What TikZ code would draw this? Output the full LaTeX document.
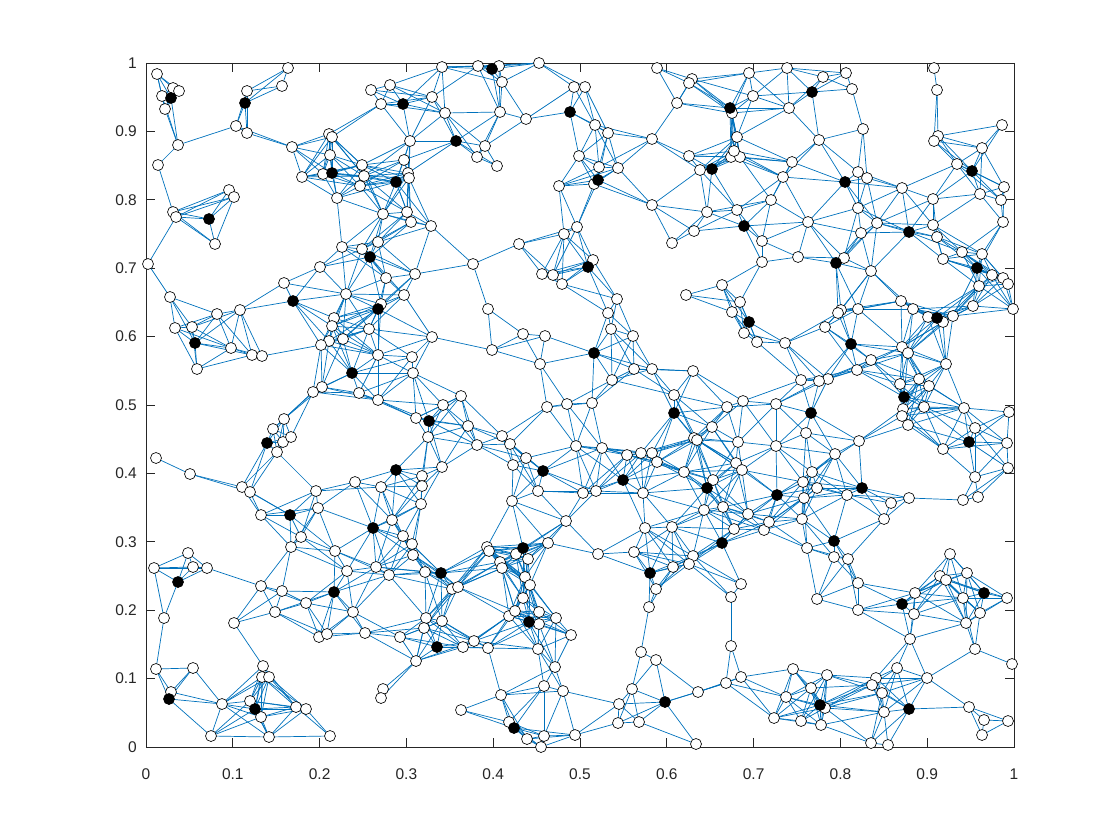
\documentclass[tikz,border=0pt]{standalone}
\usepackage{fontspec}
\setmainfont{Liberation Sans}
\definecolor{edgeblue}{rgb}{0,0.447,0.741}
\definecolor{axgray}{rgb}{0.15,0.15,0.15}
\newcount\gi \newcount\gj \newcount\gn \newcount\gd
\def\Nodes{157/74/0,173/88/0,179/91/0,162/96/0,171/98/1,165/109/0,178/145/0,158/165/0,173/212/0,176/217/0,209/219/1,229/190/0,234/197/0,215/244/0,148/264/0,288/68/0,282/86/0,247/91/0,245/103/1,236/126/0,247/133/0,292/147/0,329/134/0,332/137/0,330/155/0,332/173/1,323/174/0,302/177/0,337/198/0,342/247/0,320/267/0,284/283/0,
442/67/0,478/66/0,492/69/1,499/66/0,539/63/0,502/82/0,371/90/0,390/85/0,381/104/0,403/104/1,432/97/0,445/113/0,500/112/0,526/119/0,574/87/0,570/112/1,410/141/0,456/141/1,485/146/0,477/157/0,497/166/0,404/160/0,408/173/0,409/178/0,396/182/1,362/165/0,364/176/0,360/186/0,559/186/0,383/214/0,407/212/0,411/222/0,431/226/0,378/242/0,362/249/0,370/257/1,386/278/0,415/274/0,473/264/0,519/244/0,564/234/0,542/274/0,553/275/0,562/284/0,
657/68/0,585/87/0,595/125/0,608/133/0,579/156/0,599/167/0,618/168/0,598/180/1,594/184/0,652/139/0,677/103/0,692/79/0,689/83/0,749/73/0,753/96/0,730/108/1,732/113/0,787/68/0,789/108/0,737/137/0,689/156/0,700/170/0,712/169/1,731/157/0,740/157/0,734/151/0,783/177/0,771/200/0,652/205/0,707/212/0,737/210/0,744/226/1,694/231/0,672/243/0,762/241/0,762/262/0,577/227/0,593/260/0,588/267/1,722/285/0,
823/77/0,846/73/0,812/92/1,852/89/0,863/129/0,819/140/0,792/162/0,845/182/1,858/172/0,867/178/0,902/188/0,933/199/0,934/68/0,937/90/0,938/136/0,934/141/0,1002/125/0,982/148/0,957/164/0,972/171/1,1004/187/0,980/194/0,1001/200/0,1003/222/0,808/222/0,858/208/0,877/223/0,861/233/0,909/232/1,933/225/0,937/237/0,798/257/0,836/263/1,844/258/0,871/271/0,943/259/0,962/252/0,982/254/0,977/268/1,992/275/0,1003/278/0,1008/284/0,979/286/0,
170/297/0,293/301/1,346/294/0,217/314/0,240/310/0,175/328/0,192/327/0,195/343/1,231/348/0,252/355/0,262/356/0,197/369/0,334/318/0,332/326/0,343/339/0,329/341/0,321/345/0,352/373/1,359/393/0,322/387/0,313/392/0,284/419/0,273/429/0,267/443/1,283/442/0,291/437/0,277/452/0,156/458/0,190/474/0,242/487/0,250/492/0,316/491/0,355/482/0,318/508/0,261/515/0,290/515/1,
404/295/0,378/309/1,381/304/0,369/329/0,432/337/0,378/355/0,412/357/0,413/373/0,378/400/0,488/309/0,492/350/0,523/334/0,545/336/0,540/364/0,461/396/0,443/405/0,416/418/0,429/421/1,428/437/0,468/426/0,477/445/0,502/436/0,510/444/0,526/458/0,513/465/0,543/471/1,547/407/0,567/404/0,442/467/0,396/470/1,381/487/0,422/476/0,422/486/0,421/504/0,538/491/0,512/501/0,
686/295/0,740/302/0,732/312/0,749/322/1,744/333/0,757/342/0,785/343/0,617/299/0,608/313/0,611/329/0,633/336/0,594/353/1,634/369/0,652/369/0,693/371/0,612/380/0,674/395/0,674/413/1,592/403/0,727/407/0,743/401/0,776/404/0,712/427/0,694/438/0,697/440/0,738/442/0,776/446/0,576/446/0,602/448/0,627/455/0,641/453/0,652/453/0,657/462/0,684/472/0,736/463/0,742/470/0,623/480/1,583/493/0,596/491/0,643/493/0,713/480/0,707/488/1,777/495/1,704/510/0,723/507/0,748/514/0,
841/310/0,838/313/0,858/309/0,901/301/0,913/309/0,928/317/0,937/318/1,943/322/0,953/316/0,973/306/0,1013/309/0,825/327/0,851/344/1,902/347/0,908/353/0,871/360/0,946/364/0,857/370/0,828/379/0,819/381/0,801/380/0,900/384/0,919/379/0,929/386/0,904/397/1,903/409/0,902/416/0,908/425/0,924/407/0,964/408/0,1009/412/0,811/413/1,806/433/0,859/441/0,975/428/0,969/442/1,1007/443/0,943/449/0,835/454/0,1008/468/0,975/477/0,812/472/0,803/482/0,817/488/0,862/488/1,847/495/0,804/498/0,891/503/0,909/498/0,963/500/0,978/497/0,
301/537/0,291/547/0,335/551/0,347/571/0,334/592/1,353/612/0,188/553/0,154/568/0,193/567/0,207/568/0,178/582/1,261/586/0,282/591/0,306/603/0,275/612/0,234/623/0,164/618/0,319/637/0,327/634/0,156/669/0,193/668/0,263/666/0,262/677/0,269/677/0,171/692/0,169/699/1,222/704/0,250/701/0,255/709/1,261/717/0,296/707/0,306/709/0,211/736/0,269/737/0,330/736/0,
373/528/1,392/520/0,403/536/0,412/544/0,413/555/0,376/567/0,389/575/0,425/572/0,441/573/1,452/589/0,458/587/0,487/547/0,489/551/0,523/548/1,516/554/0,528/559/0,548/543/0,566/521/0,500/562/0,502/568/0,525/577/0,530/585/0,523/598/0,509/616/0,515/611/0,529/622/1,539/612/0,539/624/0,556/618/0,571/635/0,365/633/0,400/637/0,426/618/0,424/628/0,442/621/0,437/647/1,463/647/0,474/641/0,488/648/0,538/649/0,416/661/0,555/667/0,544/686/0,563/691/0,501/695/0,383/689/0,381/698/0,461/710/0,509/722/0,514/728/1,527/739/0,544/736/0,541/747/0,
645/528/0,672/527/0,722/543/1,734/529/0,764/530/0,769/522/0,598/554/0,634/552/0,693/556/0,689/564/0,673/567/0,650/573/1,656/589/0,649/607/0,741/584/0,731/597/0,731/646/0,641/652/0,656/660/0,632/689/0,665/702/1,698/692/0,726/683/0,741/677/0,619/704/0,618/723/0,639/722/0,575/735/0,696/744/0,786/697/0,774/718/0,
802/519/0,884/519/0,834/541/1,807/548/0,834/557/0,848/559/0,858/583/0,817/599/0,858/610/0,950/554/0,940/576/0,946/580/0,967/573/0,984/593/1,1007/598/0,963/598/0,915/593/0,902/604/1,914/614/0,966/623/0,980/613/0,910/639/0,975/649/0,1012/664/0,793/669/0,827/675/0,811/688/0,897/668/0,927/678/0,876/678/0,872/685/0,882/693/0,820/705/1,825/708/0,801/721/0,821/725/0,909/709/1,884/712/0,969/707/0,984/720/0,1008/721/0,982/735/0,871/743/0,888/745/0}
\def\edgeinner{%
  \ifnum\gj>\gn\else
    \gd=\numexpr\csname nx\the\gi\endcsname-\csname nx\the\gj\endcsname\relax
    \ifnum\gd<0 \gd=-\gd\fi
    \ifnum\gd<70\relax
      \gd=\numexpr100*\gd*\gd+161*(\csname ny\the\gi\endcsname-\csname ny\the\gj\endcsname)*(\csname ny\the\gi\endcsname-\csname ny\the\gj\endcsname)\relax
      \ifnum\gd<435200\relax
        \edef\tmpedge{\noexpand\draw[edge] (c\the\gi) -- (c\the\gj);}\tmpedge
      \fi
    \fi
    \advance\gj 1
    \expandafter\edgeinner
  \fi}
\begin{document}
\begin{tikzpicture}[x=1pt,y=-1pt,
  edge/.style={draw=edgeblue,line width=0.7pt},
  nstyle0/.style={circle,draw=black,fill=white,line width=0.65pt,inner sep=0pt,minimum size=11pt},
  nstyle1/.style={circle,draw=black,fill=black,line width=0.65pt,inner sep=0pt,minimum size=11pt},
  axis/.style={draw=axgray,line width=0.9pt},
  tick/.style={font=\fontsize{15.5}{18}\selectfont,text=axgray,inner sep=0pt}]
\useasboundingbox[fill=white] (0,0) rectangle (1120,840);
% named positions of all nodes
\foreach \px/\py/\t [count=\k] in \Nodes {
  \expandafter\xdef\csname nx\k\endcsname{\px}
  \expandafter\xdef\csname ny\k\endcsname{\py}
  \global\gn=\k\relax
  \coordinate (c\k) at (\px,\py);
}
% axes
\draw[axis] (146,63) rectangle (1014,747);
\foreach \k in {0,...,10} {
  \pgfmathsetmacro\tx{146+86.8*\k}
  \pgfmathsetmacro\ty{747-68.4*\k}
  \draw[axis] (\tx,747) -- (\tx,738);
  \draw[axis] (\tx,63) -- (\tx,72);
  \draw[axis] (146,\ty) -- (155,\ty);
  \draw[axis] (1014,\ty) -- (1005,\ty);
  \node[tick,anchor=base] (xl\k) at (\tx,779) {\ifnum\k=0 0\else\ifnum\k=10 1\else 0.\k\fi\fi};
  \node[tick,anchor=east] (yl\k) at (137,\ty) {\ifnum\k=0 0\else\ifnum\k=10 1\else 0.\k\fi\fi};
}
% edges (unit-disk graph)
\gi=1
\loop
  \gj=\gi \advance\gj 1
  \edgeinner
  \advance\gi 1
\ifnum\gi<\gn \repeat
% nodes on top
\foreach \px/\py/\t [count=\k] in \Nodes {
  \ifnum\t=0 \node[nstyle0] (n\k) at (c\k) {};\fi
}
\foreach \px/\py/\t [count=\k] in \Nodes {
  \ifnum\t=1 \node[nstyle1] (n\k) at (c\k) {};\fi
}
\end{tikzpicture}
\end{document}
